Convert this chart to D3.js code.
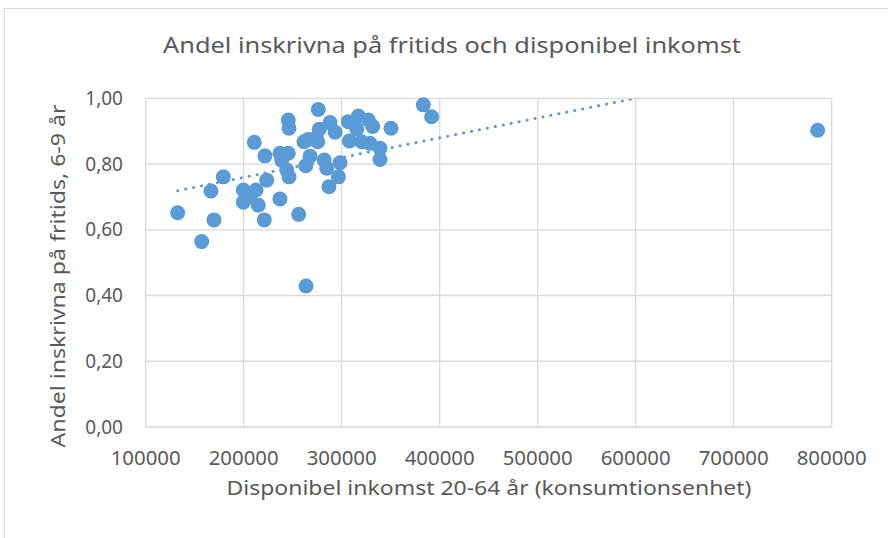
<!DOCTYPE html>
<html>
<head>
<meta charset="utf-8">
<script src="https://cdn.jsdelivr.net/npm/d3@7"></script>
<style>
  body { margin: 0; background: #fff; }
  text { font-family: "Noto Sans", "Open Sans", sans-serif; fill: #595959; }
</style>
</head>
<body>
<svg id="chart" width="888" height="538"></svg>
<script>
// Disponibel inkomst 20-64 år per kommun
var income = [132650, 157140, 169700, 166600, 179200, 199600, 212550, 199600, 214900, 206000,
  221000, 210800, 221700, 223500, 237000, 237000, 245500, 238800, 243900, 246200,
  245500, 246200, 256100, 263600, 263300, 267700, 261500, 265900, 276100, 277100,
  275500, 274000, 288100, 293200, 282200, 284700, 287000, 298300, 296600, 306800,
  317000, 315400, 307800, 320400, 327200, 331600, 328900, 339100, 339100, 350300,
  383300, 391800, 785700];
// Andel inskrivna på fritids, 6-9 år
var share = [0.652, 0.564, 0.630, 0.718, 0.761, 0.721, 0.721, 0.684, 0.675, 0.700,
  0.630, 0.866, 0.825, 0.751, 0.694, 0.833, 0.833, 0.812, 0.782, 0.761,
  0.934, 0.909, 0.647, 0.429, 0.795, 0.824, 0.868, 0.875, 0.966, 0.906,
  0.868, 0.880, 0.926, 0.897, 0.812, 0.787, 0.731, 0.804, 0.761, 0.929,
  0.946, 0.906, 0.870, 0.868, 0.934, 0.914, 0.863, 0.848, 0.814, 0.909,
  0.980, 0.944, 0.903];
var xTicks = [100000, 200000, 300000, 400000, 500000, 600000, 700000, 800000];
var yTicks = [0, 0.2, 0.4, 0.6, 0.8, 1.0];
// linjär trendlinje
var trendSlope = 6.02e-7;
var trendIntercept = 0.6390;

function drawChart() {
  var svg = d3.select("#chart");
  var pLeft = 145.7, pRight = 831.7, pTop = 98.3, pBottom = 427;

  var x = d3.scaleLinear().domain([100000, 800000]).range([pLeft, pRight]);
  var y = d3.scaleLinear().domain([0, 1]).range([pBottom, pTop]);

  // chart area border
  svg.append("rect")
    .attr("x", 4.5).attr("y", 8.5)
    .attr("width", 1000).attr("height", 1000)
    .attr("fill", "none").attr("stroke", "#d9d9d9");

  //Gridlines
  svg.append("g")
    .selectAll("line")
    .data(yTicks)
    .enter()
    .append("line")
    .attr("x1", pLeft).attr("x2", pRight)
    .attr("y1", function(d) { return y(d); })
    .attr("y2", function(d) { return y(d); })
    .attr("stroke", "#d9d9d9").attr("stroke-width", 1.3);

  svg.append("g")
    .selectAll("line")
    .data(xTicks)
    .enter()
    .append("line")
    .attr("y1", pTop).attr("y2", pBottom)
    .attr("x1", function(d) { return x(d); })
    .attr("x2", function(d) { return x(d); })
    .attr("stroke", "#d9d9d9").attr("stroke-width", 1.3);

  //Tick labels
  var fmt = function(d) { return d3.format(".2f")(d).replace(".", ","); };
  svg.append("g")
    .selectAll("text")
    .data(yTicks)
    .enter()
    .append("text")
    .attr("x", 123)
    .attr("y", function(d) { return y(d) + 6.5; })
    .attr("text-anchor", "end")
    .attr("font-size", 19)
    .text(fmt);

  svg.append("g")
    .selectAll("text")
    .data(xTicks)
    .enter()
    .append("text")
    .attr("x", function(d) { return x(d); })
    .attr("y", 465)
    .attr("text-anchor", "middle")
    .attr("font-size", 19)
    .attr("textLength", 70).attr("lengthAdjust", "spacingAndGlyphs")
    .text(function(d) { return d; });

  //Points
  var data = income.map(function(v, i) { return { inc: v, val: share[i] }; });
  svg.append("g")
    .selectAll("circle")
    .data(data)
    .enter()
    .append("circle")
    .attr("cx", function(d) { return x(d.inc); })
    .attr("cy", function(d) { return y(d.val); })
    .attr("r", 7.5)
    .attr("fill", "#5b9bd5");

  //Trendline, clipped to plot area
  svg.append("defs").append("clipPath").attr("id", "plotclip")
    .append("rect")
    .attr("x", pLeft).attr("y", pTop + 0.5)
    .attr("width", pRight - pLeft).attr("height", pBottom - pTop);

  var xMin = d3.min(income), xMax = d3.max(income);
  svg.append("g")
    .attr("clip-path", "url(#plotclip)")
    .append("line")
    .attr("x1", x(xMin)).attr("y1", y(trendIntercept + trendSlope * xMin))
    .attr("x2", x(xMax)).attr("y2", y(trendIntercept + trendSlope * xMax))
    .attr("stroke", "#5b9bd5")
    .attr("stroke-width", 3)
    .attr("stroke-linecap", "round")
    .attr("stroke-dasharray", "0.1 8");

  //Titles
  svg.append("text")
    .attr("x", 452).attr("y", 53)
    .attr("text-anchor", "middle")
    .attr("font-size", 22)
    .attr("textLength", 578).attr("lengthAdjust", "spacingAndGlyphs")
    .text("Andel inskrivna på fritids och disponibel inkomst");

  svg.append("text")
    .attr("x", 489).attr("y", 495)
    .attr("text-anchor", "middle")
    .attr("font-size", 19)
    .attr("textLength", 525).attr("lengthAdjust", "spacingAndGlyphs")
    .text("Disponibel inkomst 20-64 år (konsumtionsenhet)");

  svg.append("text")
    .attr("transform", "translate(65,276) rotate(-90)")
    .attr("text-anchor", "middle")
    .attr("font-size", 19)
    .attr("textLength", 343).attr("lengthAdjust", "spacingAndGlyphs")
    .text("Andel inskrivna på fritids, 6-9 år");
}

drawChart();
</script>
</body>
</html>
